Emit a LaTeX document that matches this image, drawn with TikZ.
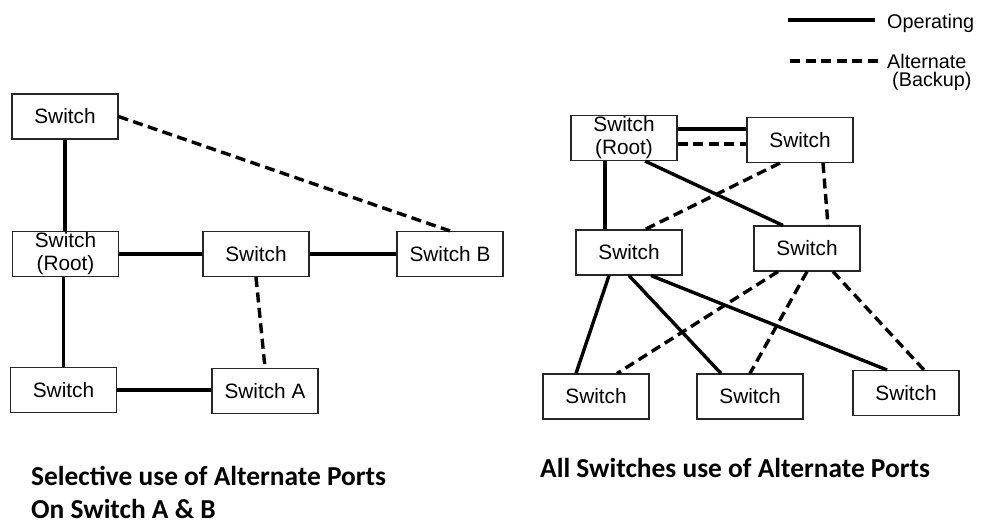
\documentclass[tikz,border=0pt]{standalone}
\usepackage{fontspec}
\setmainfont{Liberation Sans}
\newfontfamily\capfont{Carlito}
\usetikzlibrary{calc}
\begin{document}
\begin{tikzpicture}[x=1pt,y=-1pt,
  swbox/.style={draw=black!85, line width=1.1pt, minimum width=106pt, minimum height=45pt,
    inner sep=0pt, align=center, font=\fontsize{20.8}{23}\selectfont},
  oplink/.style={line width=3.4pt},
  altlink/.style={line width=3.4pt, dash pattern=on 10pt off 5.5pt},
  legtext/.style={anchor=base west, inner sep=0pt, font=\fontsize{19.8}{22}\selectfont},
  captext/.style={anchor=base west, inner sep=0pt, align=left,
    font=\capfont\bfseries\fontsize{27.4}{33}\selectfont}]
\useasboundingbox (0,0) rectangle (981,523);

% ---- left network: alternate ports only on switches A and B
\node[swbox] (Ltop) at (65,116.5) {Switch};
\node[swbox] (Lroot) at (65.5,254) {Switch\\(Root)};
\node[swbox] (Lmid) at (256,254) {Switch};
\node[swbox] (LB) at (450,254) {Switch B};
\node[swbox] (Lbot) at (63.5,390) {Switch};
\node[swbox] (LA) at (265,391) {Switch A};

\draw[oplink] (Ltop.south) -- (Ltop.south |- Lroot.north);
\draw[oplink] (Lroot.east) -- (Lroot.east -| Lmid.west);
\draw[oplink] (Lmid.east) -- (Lmid.east -| LB.west);
\draw[oplink] (Lbot.north |- Lroot.south) -- (Lbot.north);
\draw[oplink] (Lbot.east) -- (Lbot.east -| LA.west);
\draw[altlink] (Ltop.east) -- (LB.north);
\draw[altlink] (Lmid.south) -- (LA.north);

% ---- right network: every switch has an alternate port
\node[swbox] (Rroot) at (624,138) {Switch\\(Root)};
\node[swbox] (Rtop) at (800,140) {Switch};
\node[swbox] (Rml) at (629,252.5) {Switch};
\node[swbox] (Rmr) at (807,248.5) {Switch};
\node[swbox] (Rbl) at (596,396.5) {Switch};
\node[swbox] (Rbm) at (750,396.5) {Switch};
\node[swbox] (Rbr) at (906,393) {Switch};

\draw[oplink] ([yshift=9pt]Rroot.east) -- ([yshift=9pt]Rroot.east -| Rtop.west);
\draw[altlink] ([yshift=-6pt]Rroot.east) -- ([yshift=-6pt]Rroot.east -| Rtop.west);
\draw[oplink] ([xshift=-19pt]Rroot.south) -- ([xshift=-19pt]Rroot.south |- Rml.north);
\draw[oplink] ([xshift=21pt]Rroot.south) -- ([xshift=-24pt]Rmr.north);
\draw[altlink] ([xshift=-20pt]Rtop.south) -- ([xshift=16pt]Rml.north);
\draw[altlink] ([xshift=23pt]Rtop.south) -- ([xshift=21pt]Rmr.north);

\draw[oplink] ([xshift=-20pt]Rml.south) -- ([xshift=-20pt]Rbl.north);
\draw[oplink] (Rml.south) -- ([xshift=-29pt]Rbm.north);
\draw[oplink] ([xshift=22pt]Rml.south) -- ([xshift=-19pt]Rbr.north);
\draw[altlink] ([xshift=-29pt]Rmr.south) -- ([xshift=21pt]Rbl.north);
\draw[altlink] (Rmr.south) -- (Rbm.north);
\draw[altlink] ([xshift=26pt]Rmr.south) -- ([xshift=18pt]Rbr.north);

% ---- legend
\coordinate (opA) at (788,20);
\coordinate (opB) at (875,20);
\coordinate (altA) at (790,61);
\coordinate (altB) at (878,61);
\draw[oplink] (opA) -- (opB);
\draw[altlink] (altA) -- (altB);
\node[legtext] (opText) at (887,28) {Operating};
\node[legtext] (altText) at (887,68) {Alternate};
\node[legtext] (bkText) at (892,86) {(Backup)};

% ---- captions (a two-line node sits on the baseline of its last line)
\node[captext] (capL) at (31,518) {Selective use of Alternate Ports\\On Switch A \& B};
\node[captext] (capR) at (540,477) {All Switches use of Alternate Ports};
\end{tikzpicture}
\end{document}
